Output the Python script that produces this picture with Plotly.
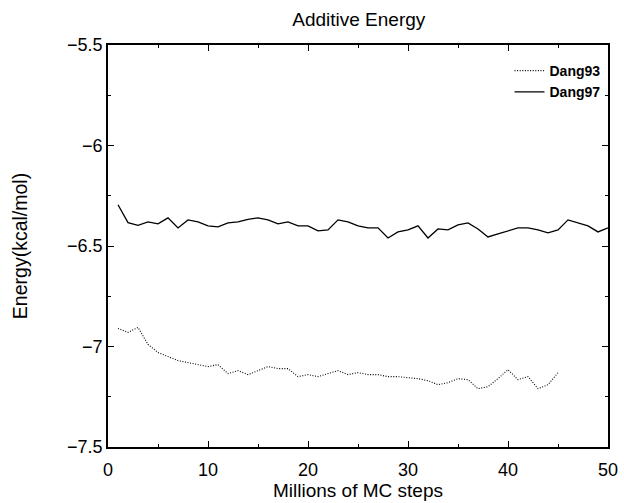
import plotly.graph_objects as go

steps97 = list(range(1, 51))
dang97 = [-6.295, -6.384, -6.397, -6.38, -6.39, -6.36, -6.41, -6.37, -6.38, -6.40,
          -6.405, -6.385, -6.38, -6.367, -6.36, -6.37, -6.39, -6.38, -6.40, -6.40,
          -6.425, -6.42, -6.37, -6.38, -6.40, -6.41, -6.41, -6.46, -6.43, -6.42,
          -6.40, -6.46, -6.415, -6.42, -6.395, -6.385, -6.415, -6.455, -6.44, -6.425,
          -6.41, -6.41, -6.42, -6.435, -6.42, -6.37, -6.385, -6.40, -6.43, -6.41]

steps93 = list(range(1, 46))
dang93 = [-6.91, -6.93, -6.905, -6.99, -7.03, -7.05, -7.07, -7.08, -7.09, -7.10,
          -7.09, -7.135, -7.12, -7.14, -7.12, -7.10, -7.11, -7.11, -7.15, -7.14,
          -7.15, -7.135, -7.12, -7.14, -7.13, -7.14, -7.14, -7.15, -7.15, -7.155,
          -7.16, -7.17, -7.19, -7.18, -7.16, -7.165, -7.21, -7.20, -7.16, -7.115,
          -7.165, -7.15, -7.21, -7.19, -7.13]

font = "Liberation Sans, Arial, Helvetica, sans-serif"

fig = go.Figure()
fig.add_trace(go.Scatter(x=steps93, y=dang93, mode="lines", name="<b>Dang93</b>",
                         line=dict(color="black", width=1.1, dash="1px,1.6px")))
fig.add_trace(go.Scatter(x=steps97, y=dang97, mode="lines", name="<b>Dang97</b>",
                         line=dict(color="black", width=1.3)))

axis_common = dict(showgrid=False, zeroline=False, showline=True, linecolor="black",
                   linewidth=1.5, mirror="allticks", ticks="inside", ticklen=6,
                   tickcolor="black", tickwidth=1.2, automargin=False,
                   tickfont=dict(family=font, size=18, color="black"))

fig.update_xaxes(range=[0, 50], dtick=10, tick0=0, ticklabelstandoff=6,
                 minor=dict(dtick=5, ticks="inside", ticklen=3, tickcolor="black"),
                 title=dict(text="Millions of MC steps", font=dict(family=font, size=19, color="black"),
                            standoff=3),
                 **axis_common)
fig.update_yaxes(range=[-7.5, -5.5], dtick=0.5, tick0=-7.5,
                 minor=dict(dtick=0.25, ticks="inside", ticklen=3, tickcolor="black"),
                 title=dict(text="Energy(kcal/mol)", font=dict(family=font, size=19.5, color="black"),
                            standoff=34),
                 **axis_common)

fig.update_layout(
    width=624, height=503,
    margin=dict(l=108, r=16, t=45, b=56, autoexpand=False),
    paper_bgcolor="white", plot_bgcolor="white",
    title=dict(text="Additive Energy", x=0.575, xanchor="center", y=0.961, yanchor="middle",
               font=dict(family=font, size=19, color="black")),
    legend=dict(x=0.995, y=0.975, xanchor="right", yanchor="top",
                bgcolor="rgba(0,0,0,0)", borderwidth=0,
                font=dict(family=font, size=14, color="black"),
                tracegroupgap=0, itemwidth=30),
    showlegend=True,
)

fig.write_html("out.html")
